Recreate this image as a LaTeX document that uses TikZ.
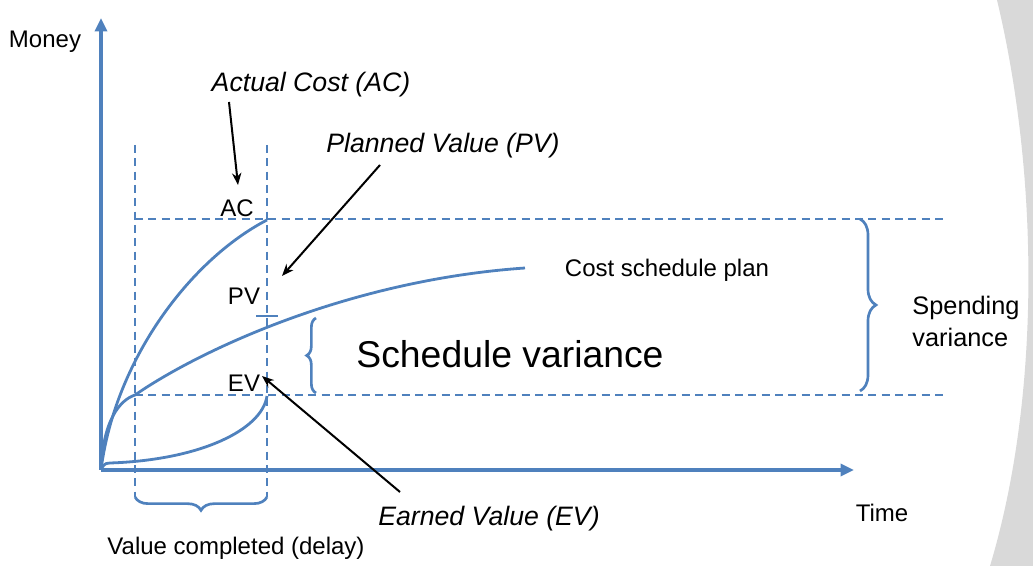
\documentclass[tikz,border=0pt]{standalone}
\usepackage{fontspec}
\setmainfont{Liberation Sans}
\usetikzlibrary{arrows.meta,decorations.pathreplacing}
\definecolor{bl}{RGB}{79,129,189}
\begin{document}
\begin{tikzpicture}[x=0.75pt,y=-0.75pt,
  ax/.style={bl,line width=2.4pt,-{Triangle[length=10pt,width=9pt]}},
  dsh/.style={bl,line width=2pt,dash pattern=on 6pt off 4pt},
  crv/.style={bl,line width=2.1pt},
  blk/.style={black,line width=1.5pt,-{Stealth[length=9pt,width=7pt]}},
  brc/.style={bl,line width=2pt,decorate},
  lbl/.style={font=\fontsize{18}{21}\selectfont,inner sep=1pt},
  ital/.style={font=\fontsize{20}{23}\selectfont\itshape,inner sep=1pt}]
\useasboundingbox (0,0) rectangle (1033,566);
\fill[black!15] (997,0) .. controls (1040,180) and (1040,400) .. (990,566) -- (1033,566) -- (1033,0) -- cycle;
% axes
\coordinate (O) at (101,470);
\coordinate (Ytop) at (101,18);
\coordinate (Xend) at (854,470);
\draw[ax] (O) -- (Ytop);
\draw[ax] (O) -- (Xend);
% dashed
\coordinate (v1a) at (135,145); \coordinate (v1b) at (135,497);
\coordinate (v2a) at (267,145); \coordinate (v2b) at (267,497);
\coordinate (h1a) at (135,219); \coordinate (h1b) at (946,219);
\coordinate (h2a) at (135,395); \coordinate (h2b) at (946,395);
\draw[dsh] (v1a) -- (v1b);
\draw[dsh] (v2a) -- (v2b);
\draw[dsh] (h1a) -- (h1b);
\draw[dsh] (h2a) -- (h2b);
% curves
\coordinate (ACp) at (267,220);
\coordinate (PVp) at (267,316);
\coordinate (EVp) at (267,396);
\coordinate (PVend) at (525,268);
\draw[crv] (O) .. controls (115,360) and (190,260) .. (ACp);
\draw[crv] (O) .. controls (103,420) and (120,400) .. (135,395) .. controls (200,350) and (350,280) .. (PVend);
\draw[crv] (O) .. controls (103,466) and (104,463) .. (110,463) .. controls (200,460) and (262,430) .. (EVp);
\draw[crv] (256,316) -- (278,316);
% braces
\coordinate (b1a) at (860,219); \coordinate (b1b) at (860,391);
\draw[brc,decoration={brace,amplitude=12pt}] (b1a) -- (b1b);
\coordinate (b2a) at (316,393); \coordinate (b2b) at (316,318);
\draw[brc,decoration={brace,amplitude=7pt}] (b2a) -- (b2b);
\coordinate (b3a) at (267,497); \coordinate (b3b) at (135,497);
\draw[brc,decoration={brace,amplitude=10pt}] (b3a) -- (b3b);
% labels
\node[lbl] (money) at (45,42) {Money};
\node[lbl] (time) at (882,513) {Time};
\node[ital] (acl) at (311,85) {Actual Cost (AC)};
\node[ital] (pvl) at (443,146) {Planned Value (PV)};
\node[ital] (evl) at (489,519) {Earned Value (EV)};
\node[lbl] (ac) at (237,208) {AC};
\node[lbl] (pv) at (244,296) {PV};
\node[lbl] (ev) at (244,383) {EV};
\node[lbl] (csp) at (667,270) {Cost schedule plan};
\node[font=\fontsize{28}{32}\selectfont] (sv) at (510,354) {Schedule variance};
\node[font=\fontsize{19}{24}\selectfont,align=left,inner sep=1pt] (spv) at (966,321) {Spending\\variance};
\node[lbl] (vcd) at (236,548) {Value completed (delay)};
\coordinate (a1) at (229,102); \coordinate (a1e) at (238,185);
\coordinate (a2) at (380,165); \coordinate (a2e) at (282,276);
\coordinate (a3) at (400,492); \coordinate (a3e) at (262,376);
\draw[blk] (a1) -- (a1e);
\draw[blk] (a2) -- (a2e);
\draw[blk] (a3) -- (a3e);
\end{tikzpicture}
\end{document}
